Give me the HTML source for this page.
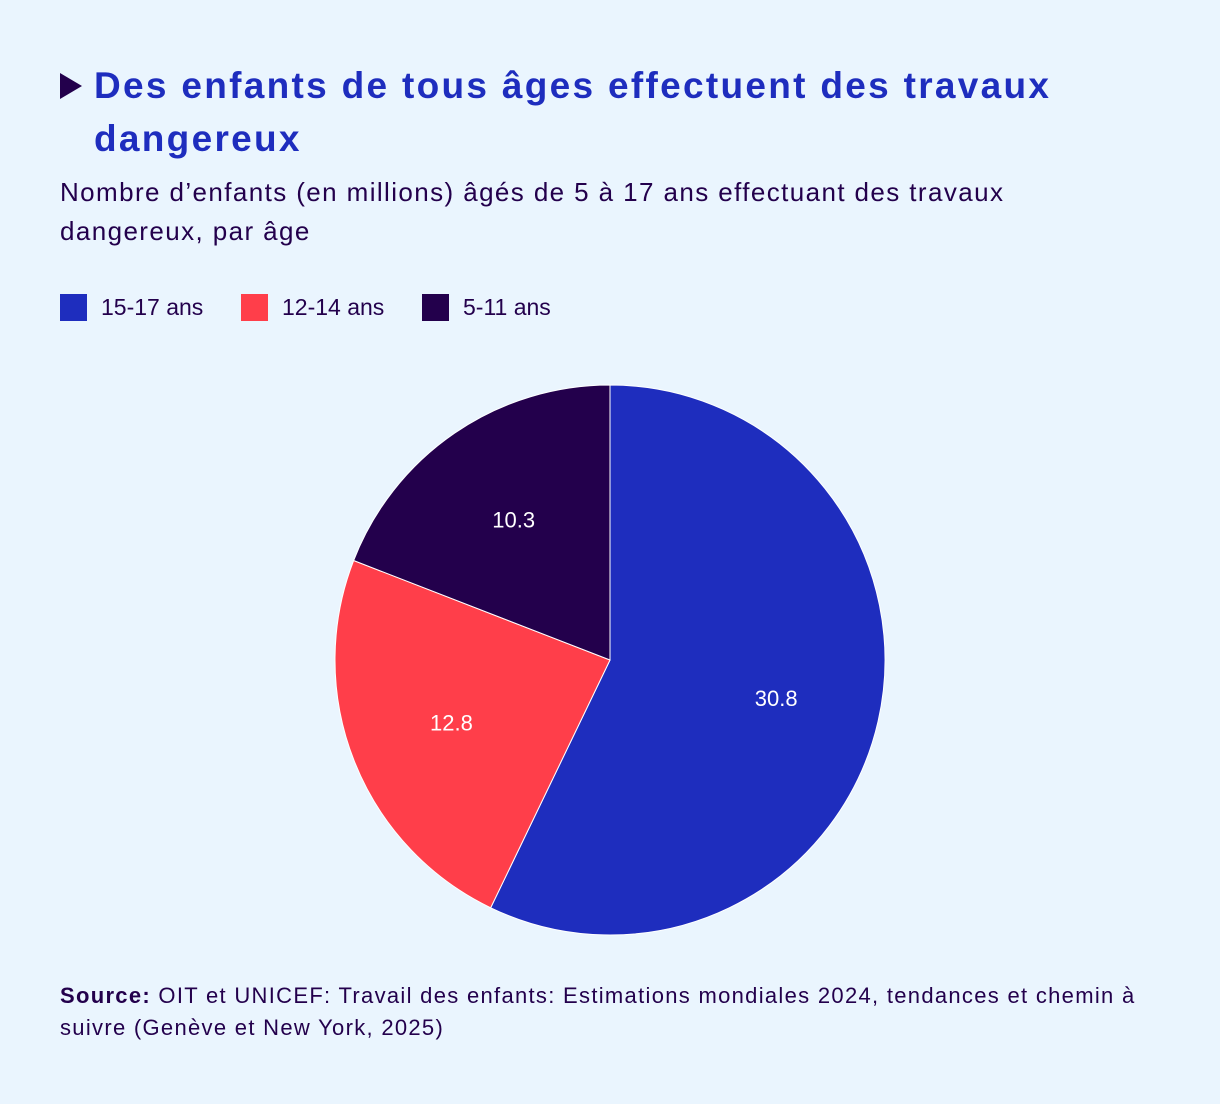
<!DOCTYPE html>
<html><head><meta charset="utf-8"><style>
body{margin:0;width:1220px;height:1104px;background:#eaf5fe;font-family:"Liberation Sans",sans-serif;color:#23004c;position:relative;overflow:hidden}
.t{position:absolute;left:94px;top:59px;font-size:37px;font-weight:bold;color:#1e2dbe;line-height:53px;width:1050px;letter-spacing:2.3px}
.tri{position:absolute;left:60px;top:73px;width:0;height:0;border-left:22px solid #23004c;border-top:13px solid transparent;border-bottom:13px solid transparent}
.s{position:absolute;left:60px;top:173px;font-size:26px;line-height:39px;width:1050px;letter-spacing:1.4px}
.lg{position:absolute;top:294px;font-size:23px;display:flex;align-items:center}
.sw{width:27px;height:27px;margin-right:14px}
.src{position:absolute;left:60px;top:980px;font-size:22px;line-height:32px;width:1090px;letter-spacing:1.3px}
</style></head><body>
<div class="tri"></div>
<div class="t">Des enfants de tous âges effectuent des travaux<br>dangereux</div>
<div class="s">Nombre d’enfants (en millions) âgés de 5 à 17 ans effectuant des travaux<br>dangereux, par âge</div>
<div class="lg" style="left:60px"><div class="sw" style="background:#1e2dbe"></div>15-17 ans</div>
<div class="lg" style="left:241px"><div class="sw" style="background:#ff3e4a"></div>12-14 ans</div>
<div class="lg" style="left:422px"><div class="sw" style="background:#23004c"></div>5-11 ans</div>
<svg id="pie" width="1220" height="1104" style="position:absolute;left:0;top:0"></svg>
<div class="src"><b>Source:</b> OIT et UNICEF: Travail des enfants: Estimations mondiales 2024, tendances et chemin à<br>suivre (Genève et New York, 2025)</div>
<script>
const categories=["15-17 ans","12-14 ans","5-11 ans"];
const values=[30.8,12.8,10.3];
const labels=["30.8","12.8","10.3"];
const colors=["#1e2dbe","#ff3e4a","#23004c"];
const cx=610,cy=660,R=275;
const svg=document.getElementById('pie');
const ns="http://www.w3.org/2000/svg";
const total=values.reduce((a,b)=>a+b,0);
function pt(a,r){return [cx+r*Math.sin(a),cy-r*Math.cos(a)];}
let a0=0;
values.forEach((v,i)=>{
  const a1=a0+v/total*2*Math.PI;
  const p0=pt(a0,R),p1=pt(a1,R);
  const large=(a1-a0)>Math.PI?1:0;
  const path=document.createElementNS(ns,'path');
  path.setAttribute('d',`M${cx},${cy}L${p0[0]},${p0[1]}A${R},${R} 0 ${large} 1 ${p1[0]},${p1[1]}Z`);
  path.setAttribute('fill',colors[i]);
  path.setAttribute('stroke','#ffffff');
  path.setAttribute('stroke-width','1');
  
  
  svg.appendChild(path);
  const m=pt((a0+a1)/2,R*0.62);
  const t=document.createElementNS(ns,'text');
  t.setAttribute('x',m[0]);t.setAttribute('y',m[1]+8);
  t.setAttribute('text-anchor','middle');t.setAttribute('fill','#ffffff');
  t.setAttribute('font-size','22');t.setAttribute('font-family','Liberation Sans, sans-serif');
  t.textContent=labels[i];
  
  
  svg.appendChild(t);
  a0=a1;
});
</script>
</body></html>
